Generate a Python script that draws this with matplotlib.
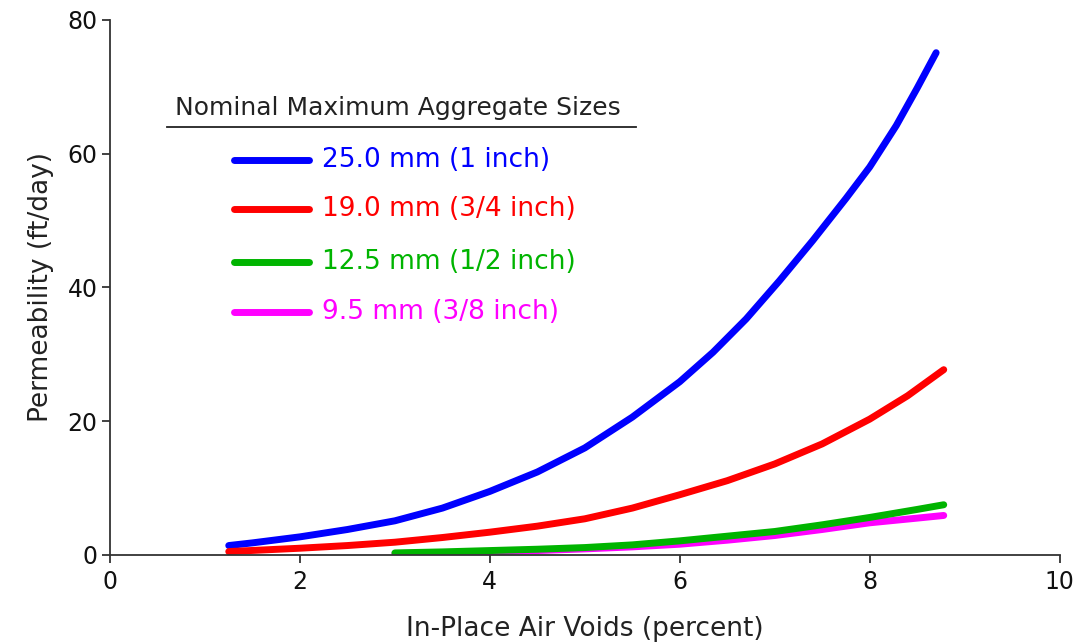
import matplotlib
matplotlib.use("Agg")
import matplotlib.pyplot as plt

# air voids (percent) and permeability (ft/day)
x_25 = [1.25, 1.5, 2, 2.5, 3, 3.5, 4, 4.5, 5, 5.5, 6, 6.35, 6.7, 7.05, 7.4, 7.75, 8.0, 8.28, 8.5, 8.7]
y_25 = [1.4, 1.8, 2.7, 3.8, 5.1, 7.0, 9.5, 12.4, 16.0, 20.6, 25.9, 30.3, 35.3, 41.0, 47.0, 53.3, 58.0, 64.2, 69.8, 75.1]

x_19 = [1.25, 2, 2.5, 3, 3.5, 4, 4.5, 5, 5.5, 6, 6.5, 7.0, 7.5, 8, 8.4, 8.78]
y_19 = [0.5, 1.0, 1.4, 1.9, 2.6, 3.4, 4.3, 5.4, 7.0, 9.0, 11.1, 13.6, 16.6, 20.3, 23.8, 27.7]

x_125 = [3, 3.5, 4, 4.5, 5, 5.5, 6, 6.5, 7, 7.5, 8, 8.5, 8.78]
y_125 = [0.3, 0.45, 0.65, 0.85, 1.1, 1.5, 2.1, 2.8, 3.5, 4.5, 5.6, 6.8, 7.5]

x_95 = [3, 3.5, 4, 4.5, 5, 5.5, 6, 6.5, 7, 7.5, 8, 8.5, 8.78]
y_95 = [0.2, 0.3, 0.45, 0.65, 0.9, 1.2, 1.6, 2.2, 2.9, 3.8, 4.8, 5.5, 5.9]

labels = ["25.0 mm (1 inch)", "19.0 mm (3/4 inch)", "12.5 mm (1/2 inch)", "9.5 mm (3/8 inch)"]
colors = ["#0000ff", "#ff0000", "#00b400", "#ff00ff"]

plt.rcParams['font.family'] = ['DejaVu Sans']

fig = plt.figure(figsize=(10.79, 6.43), dpi=100)
ax = fig.add_axes([0.102, 0.137, 0.880, 0.832])

lw = 5
ax.plot(x_25, y_25, color=colors[0], lw=lw, solid_capstyle='round', solid_joinstyle='round')
ax.plot(x_19, y_19, color=colors[1], lw=lw, solid_capstyle='round', solid_joinstyle='round')
ax.plot(x_95, y_95, color=colors[3], lw=lw, solid_capstyle='round', solid_joinstyle='round')
ax.plot(x_125, y_125, color=colors[2], lw=lw, solid_capstyle='round', solid_joinstyle='round')

ax.set_xlim(0, 10)
ax.set_ylim(0, 80)
ax.set_xticks([0, 2, 4, 6, 8, 10])
ax.set_yticks([0, 20, 40, 60, 80])
ax.spines['top'].set_visible(False)
ax.spines['right'].set_visible(False)
for s in ['left', 'bottom']:
    ax.spines[s].set_color('#333333')
    ax.spines[s].set_linewidth(1.3)
ax.tick_params(length=6, width=1.3, color='#333333', labelsize=17, labelcolor='#111111')
ax.tick_params(axis='x', pad=5)
ax.tick_params(axis='y', pad=3)
ax.set_xlabel("In-Place Air Voids (percent)", fontsize=19, labelpad=16, color='#222222')
ax.set_ylabel("Permeability (ft/day)", fontsize=19, labelpad=10, color='#222222')

# hand-made legend
ax.text(0.068, 0.836, "Nominal Maximum Aggregate Sizes", transform=ax.transAxes,
        fontsize=18, color='#222222', va='center', ha='left')
ax.plot([0.060, 0.554], [0.800, 0.800], transform=ax.transAxes, color='#222222', lw=1.3)
rows_y = [0.738, 0.646, 0.547, 0.454]
for lab, c, yy in zip(labels, colors, rows_y):
    ax.plot([0.131, 0.209], [yy, yy], transform=ax.transAxes, color=c, lw=lw,
            solid_capstyle='round')
    ax.text(0.223, yy, lab, transform=ax.transAxes, fontsize=19, color=c,
            va='center', ha='left')

fig.savefig("out.png", dpi=100)
